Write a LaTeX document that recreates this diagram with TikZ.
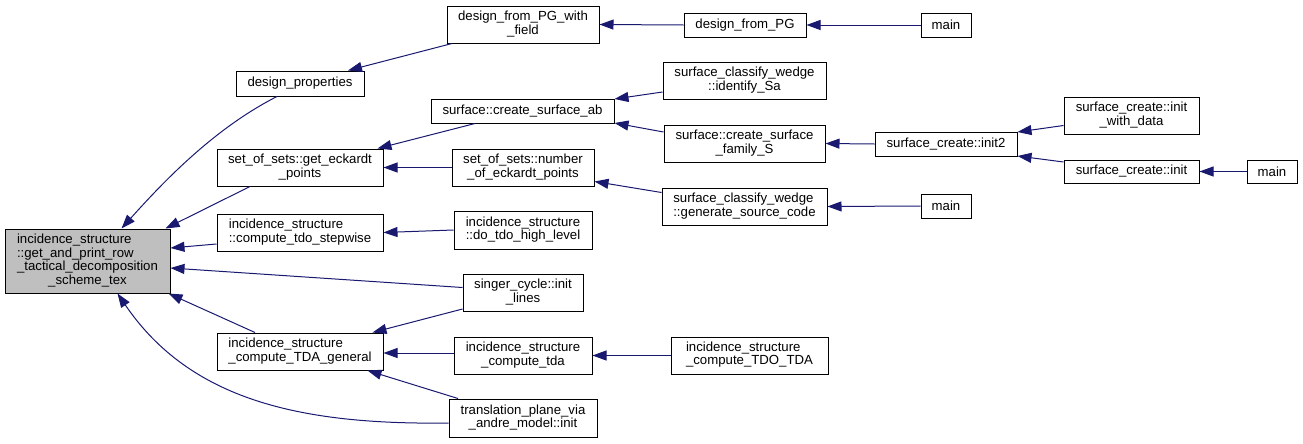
\documentclass[tikz,border=0pt]{standalone}
\usepackage{fontspec}
\setmainfont{Liberation Sans}
\usetikzlibrary{arrows.meta,calc}
\definecolor{edgeblue}{RGB}{25,25,112}
\definecolor{rootgray}{RGB}{191,191,191}
\newcommand\mkbox[7][]{\node[box,#1,minimum width={(#5-#3)*0.75pt},minimum height={(#6-#4)*0.75pt}] (#2) at ({(#3+#5)/2},{(#4+#6)/2}) {#7};}
\newcommand\lbl[2]{\begin{tabular}{@{}l@{}}#1\\\multicolumn{1}{@{}c@{}}{#2}\end{tabular}}
\begin{document}
\begin{tikzpicture}[x=0.75pt,y=-0.75pt,
  box/.style={draw=black,line width=0.75pt,fill=white,inner sep=0pt,align=center,font=\fontsize{9.9pt}{9.9pt}\selectfont},
  edge/.style={draw=edgeblue,line width=0.75pt,-{Triangle[length=10.5pt,width=7.5pt]}}]
\useasboundingbox (0,0) rectangle (1303,443);
% nodes
\mkbox[fill=rootgray]{root}{5}{229}{170}{293}{\lbl{incidence\_structure\\::get\_and\_print\_row\\\_tactical\_decomposition}{\_scheme\_tex}}
\mkbox{dp}{236}{71}{364}{96}{design\_properties}
\mkbox{dfpwf}{447}{6}{599}{43}{\lbl{design\_from\_PG\_with}{\_field}}
\mkbox{dfpg}{684}{13}{806}{37}{design\_from\_PG}
\mkbox{mainA}{921}{13}{971}{37}{main}
\mkbox{csab}{431}{99}{614}{123}{surface::create\_surface\_ab}
\mkbox{ge}{217}{149}{383}{186}{\lbl{set\_of\_sets::get\_eckardt}{\_points}}
\mkbox{nep}{452}{149}{594}{186}{\lbl{set\_of\_sets::number}{\_of\_eckardt\_points}}
\mkbox{cs}{217}{214}{383}{251}{\lbl{incidence\_structure}{::compute\_tdo\_stepwise}}
\mkbox{dth}{454}{211}{592}{249}{\lbl{incidence\_structure}{::do\_tdo\_high\_level}}
\mkbox{sc}{463}{274}{583}{311}{\lbl{singer\_cycle::init}{\_lines}}
\mkbox{tdag}{217}{333}{383}{370}{\lbl{incidence\_structure}{\_compute\_TDA\_general}}
\mkbox{ctda}{454}{337}{592}{374}{\lbl{incidence\_structure}{\_compute\_tda}}
\mkbox{tp}{449}{399}{597}{437}{\lbl{translation\_plane\_via}{\_andre\_model::init}}
\mkbox{isa}{663}{62}{826}{99}{\lbl{surface\_classify\_wedge}{::identify\_Sa}}
\mkbox{fs}{664}{125}{825}{162}{\lbl{surface::create\_surface}{\_family\_S}}
\mkbox{gsc}{662}{188}{827}{225}{\lbl{surface\_classify\_wedge}{::generate\_source\_code}}
\mkbox{mainB}{921}{194}{971}{218}{main}
\mkbox{inittwo}{875}{132}{1017}{156}{surface\_create::init2}
\mkbox{iwd}{1064}{97}{1199}{134}{\lbl{surface\_create::init}{\_with\_data}}
\mkbox{init}{1064}{160}{1199}{183}{surface\_create::init}
\mkbox{mainC}{1247}{160}{1297}{183}{main}
\mkbox{tdo}{671}{337}{828}{374}{\lbl{incidence\_structure}{\_compute\_TDO\_TDA}}
% edges
\draw[edge] ($(dp.south)+(-23,0)$) .. controls (215,128) and (165,180) .. ($(root.north)+(34,0)$);
\draw[edge] ($(ge.south)+(-50,0)$) -- ($(root.north east)+(-5,0)$);
\draw[edge] ($(cs.west)+(0,11.5)$) -- ($(root.east)+(0,-13)$);
\draw[edge] ($(sc.west)+(0,-5)$) -- ($(root.east)+(0,7)$);
\draw[edge] ($(tdag.north)+(-45,0)$) -- ($(root.south east)+(-2,0)$);
\draw[edge] ($(tp.west)+(0,5)$) .. controls (300,425) and (190,400) .. ($(root.south)+(30,0)$);
\draw[edge] ($(dfpwf.south)+(-71,0)$) -- ($(dp.north)+(48,0)$);
\draw[edge] (dfpg.west) -- (dfpwf.east);
\draw[edge] (mainA.west) -- (dfpg.east);
\draw[edge] ($(csab.south)+(-47.5,0)$) -- ($(ge.north east)+(-6,0)$);
\draw[edge] (nep.west) -- (ge.east);
\draw[edge] ($(isa.west)+(0,11.5)$) -- ($(csab.east)+(0,-12)$);
\draw[edge] ($(fs.west)+(0,-11.5)$) -- ($(csab.east)+(0,12)$);
\draw[edge] (inittwo.west) -- (fs.east);
\draw[edge] ($(iwd.west)+(0,10)$) -- ($(inittwo.east)+(0,-12)$);
\draw[edge] ($(init.west)+(0,-9.5)$) -- ($(inittwo.east)+(0,12)$);
\draw[edge] (mainC.west) -- (init.east);
\draw[edge] ($(gsc.west)+(0,-14)$) -- ($(nep.east)+(0,14)$);
\draw[edge] (mainB.west) -- (gsc.east);
\draw[edge] (dth.west) -- (cs.east);
\draw[edge] ($(sc.west)+(0,16.5)$) -- ($(tdag.north east)+(-11,0)$);
\draw[edge] ($(ctda.west)+(0,-2.5)$) -- ($(tdag.east)+(0,1.5)$);
\draw[edge] ($(tp.north)+(-65,0)$) -- ($(tdag.south east)+(-16,0)$);
\draw[edge] (tdo.west) -- (ctda.east);
\end{tikzpicture}
\end{document}
